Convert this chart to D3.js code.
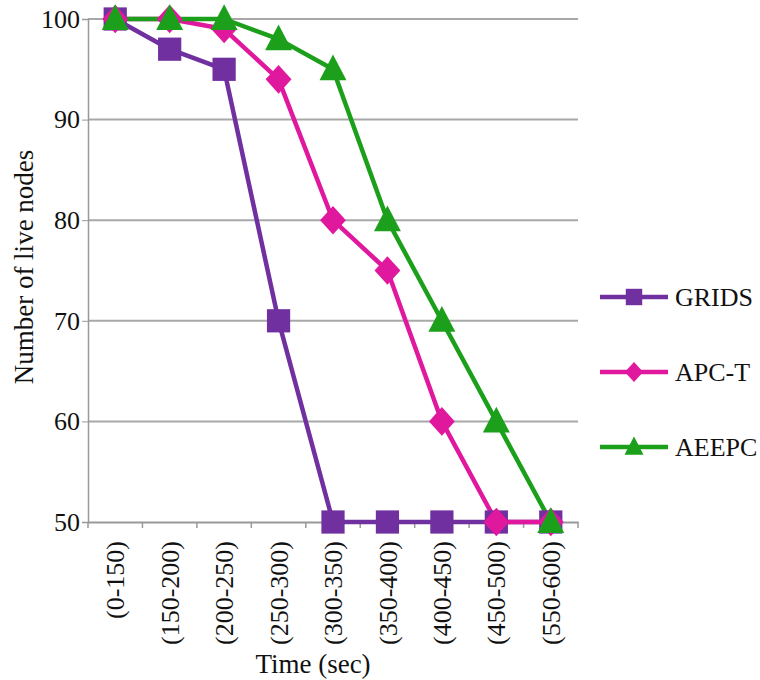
<!DOCTYPE html>
<html><head><meta charset="utf-8">
<script src="https://cdn.jsdelivr.net/npm/d3@7"></script>
</head><body>
<script>
const categories = ["(0-150)","(150-200)","(200-250)","(250-300)","(300-350)","(350-400)","(400-450)","(450-500)","(550-600)"];
const grids = [100, 97, 95, 70, 50, 50, 50, 50, 50];
const apct  = [100, 100, 99, 94, 80, 75, 60, 50, 50];
const aeepc = [100, 100, 100, 98, 95, 80, 70, 60, 50];
const yTicks = [50, 60, 70, 80, 90, 100];
const seriesNames = ["GRIDS", "APC-T", "AEEPC"];

const FONT = "Liberation Serif";
const W = 760, H = 680;
d3.select("body").style("margin", "0px").style("background", "#fff");
const svg = d3.select("body").append("svg").attr("width", W).attr("height", H)
  .style("display", "block");
const x = d3.scaleBand().domain(categories).range([88, 578]);
const y = d3.scaleLinear().domain([50, 100]).range([522, 19]);

svg.append("g").selectAll("line").data(yTicks.filter(d => d > 50)).join("line")
  .attr("x1", 88).attr("x2", 578).attr("y1", d => y(d)).attr("y2", d => y(d))
  .attr("stroke", "#a8a8a8").attr("stroke-width", 2);

const ya = svg.append("g").attr("transform", "translate(88,0)")
  .call(d3.axisLeft(y).tickValues(yTicks).tickSize(6).tickPadding(2));
ya.attr("font-family", FONT).attr("font-size", 26);
ya.select(".domain").attr("stroke", "#999").attr("stroke-width", 1.5);
ya.selectAll(".tick line").attr("stroke", "#999");
ya.selectAll("text").attr("font-family", FONT).attr("font-size", 26).attr("fill", "#111");

const xa = svg.append("g").attr("transform", "translate(0,522)")
  .call(d3.axisBottom(x).tickSize(0).tickSizeOuter(0));
xa.attr("font-family", FONT).attr("font-size", 26);
xa.select(".domain").attr("stroke", "#999").attr("stroke-width", 2);
xa.selectAll(".tick text").attr("transform", "rotate(-90)").attr("text-anchor", "end")
  .attr("x", -19).attr("y", 0).attr("dy", "0.35em")
  .attr("font-family", FONT).attr("font-size", 26).attr("fill", "#111");
svg.append("g").selectAll("line").data(categories.concat(["__end"])).join("line")
  .attr("x1", (d, i) => 88 + i * x.bandwidth()).attr("x2", (d, i) => 88 + i * x.bandwidth())
  .attr("y1", 522).attr("y2", 528).attr("stroke", "#999").attr("stroke-width", 1.5);

svg.append("text").attr("transform", "translate(33,267) rotate(-90)").attr("text-anchor", "middle")
  .attr("font-family", FONT).attr("font-size", 27).attr("fill", "#111").text("Number of  live nodes");
svg.append("text").attr("x", 313).attr("y", 673).attr("text-anchor", "middle")
  .attr("font-family", FONT).attr("font-size", 27).attr("fill", "#111").text("Time (sec)");

const colors = ["#7030A0", "#E0189E", "#1CA01C"];
const data = [grids, apct, aeepc];
const rhombus = { draw(ctx, size) { const r = Math.sqrt(size / 2); ctx.moveTo(0, -r * 1.05); ctx.lineTo(r * 0.95, 0); ctx.lineTo(0, r * 1.05); ctx.lineTo(-r * 0.95, 0); ctx.closePath(); } };
const tri = { draw(ctx, size) { const s = Math.sqrt(size); ctx.moveTo(0, -s * 0.6); ctx.lineTo(s * 0.55, s * 0.45); ctx.lineTo(-s * 0.55, s * 0.45); ctx.closePath(); } };
const shapes = [d3.symbolSquare, rhombus, tri];
const sizes = [540, 370, 600];
const line = d3.line().x((d, i) => x(categories[i]) + x.bandwidth() / 2).y(d => y(d));

data.forEach((vals, s) => {
  svg.append("path").datum(vals).attr("d", line).attr("fill", "none")
    .attr("stroke", colors[s]).attr("stroke-width", 4.5).attr("stroke-linejoin", "round");
});
data.forEach((vals, s) => {
  svg.append("g").selectAll("path").data(vals).join("path")
    .attr("transform", (d, i) => `translate(${x(categories[i]) + x.bandwidth() / 2},${y(d)})`)
    .attr("d", d3.symbol().type(shapes[s]).size(sizes[s]))
    .attr("fill", colors[s]);
});

const legY = [297, 372, 447];
seriesNames.forEach((n, s) => {
  const g = svg.append("g").attr("transform", `translate(0,${legY[s]})`);
  g.append("line").attr("x1", 600).attr("x2", 668).attr("y1", 0).attr("y2", 0)
    .attr("stroke", colors[s]).attr("stroke-width", 4.5);
  g.append("path").attr("transform", "translate(634,0)")
    .attr("d", d3.symbol().type(shapes[s]).size(sizes[s] * 0.5)).attr("fill", colors[s]);
  g.append("text").attr("x", 675).attr("y", 0).attr("dy", "0.35em")
    .attr("font-family", FONT).attr("font-size", 26).attr("fill", "#111").text(n);
});
</script>
</body></html>
